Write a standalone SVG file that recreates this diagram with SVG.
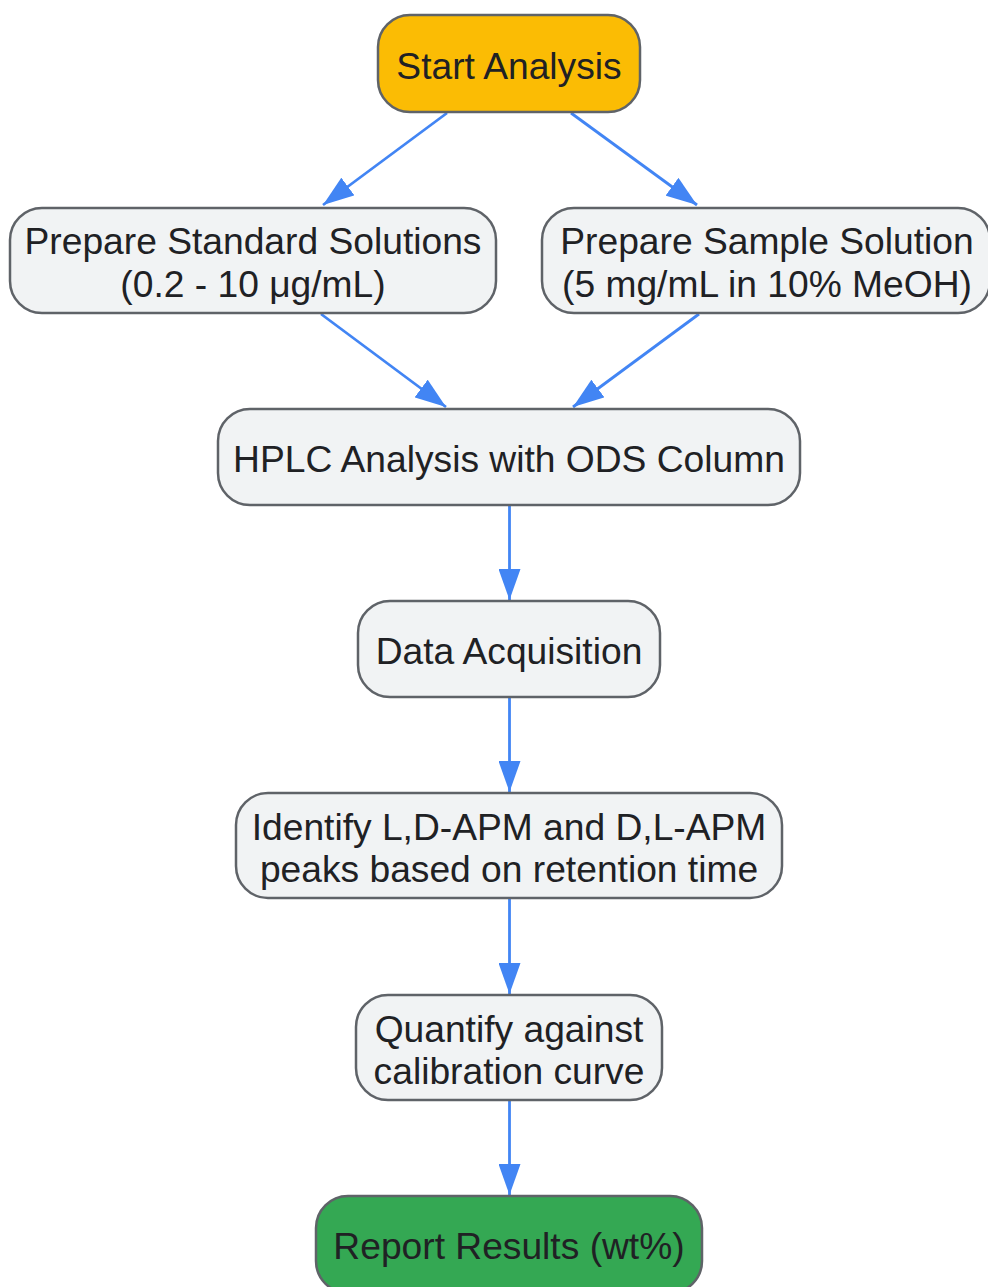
<svg xmlns="http://www.w3.org/2000/svg" width="988" height="1287" viewBox="0 0 988 1287">
<style>
.n{stroke:#5f6368;stroke-width:2.5}
.g{fill:#f1f3f4}
.t{font-family:"Liberation Sans",Arial,sans-serif;font-size:37.2px;fill:#202124;text-anchor:middle}
.e{stroke:#4285f4;stroke-width:2.8;fill:none;marker-end:url(#ah)}
</style>
<defs>
<marker id="ah" markerUnits="userSpaceOnUse" markerWidth="32" markerHeight="22" refX="31" refY="11" orient="auto">
<path d="M0,0 L31,11 L0,22 z" fill="#4285f4"/>
</marker>
</defs>
<rect width="988" height="1287" fill="#ffffff"/>
<g id="connectors">
<line class="e" x1="447" y1="113" x2="323" y2="205"/>
<line class="e" x1="571" y1="113" x2="697" y2="205"/>
<line class="e" x1="321" y1="314" x2="446" y2="407"/>
<line class="e" x1="699" y1="314" x2="573" y2="407"/>
<line class="e" x1="509.5" y1="505" x2="509.5" y2="600"/>
<line class="e" x1="509.5" y1="697" x2="509.5" y2="792"/>
<line class="e" x1="509.5" y1="898" x2="509.5" y2="994"/>
<line class="e" x1="509.5" y1="1100" x2="509.5" y2="1195"/>
</g>
<g id="start">
<rect class="n" x="378" y="15" width="262" height="97" rx="32" fill="#fbbc04"/>
<text class="t" x="509" y="78.5">Start Analysis</text>
</g>
<g id="standard">
<rect class="n g" x="10" y="208" width="486" height="105" rx="32"/>
<text class="t" x="253" y="254">Prepare Standard Solutions</text>
<text class="t" x="253" y="297">(0.2 - 10 μg/mL)</text>
</g>
<g id="sample">
<rect class="n g" x="542" y="208" width="448" height="105" rx="32"/>
<text class="t" x="767" y="254">Prepare Sample Solution</text>
<text class="t" x="767" y="297">(5 mg/mL in 10% MeOH)</text>
</g>
<g id="hplc">
<rect class="n g" x="218" y="409" width="582" height="96" rx="32"/>
<text class="t" x="509" y="471.5">HPLC Analysis with ODS Column</text>
</g>
<g id="data">
<rect class="n g" x="358" y="601" width="302" height="96" rx="32"/>
<text class="t" x="509" y="663.5">Data Acquisition</text>
</g>
<g id="identify">
<rect class="n g" x="236" y="793" width="546" height="105" rx="32"/>
<text class="t" x="509" y="840">Identify L,D-APM and D,L-APM</text>
<text class="t" x="509" y="882">peaks based on retention time</text>
</g>
<g id="quantify">
<rect class="n g" x="356" y="995" width="306" height="105" rx="32"/>
<text class="t" x="509" y="1042">Quantify against</text>
<text class="t" x="509" y="1084">calibration curve</text>
</g>
<g id="report">
<rect class="n" x="316" y="1196" width="386" height="97" rx="32" fill="#34a853"/>
<text class="t" x="509" y="1259">Report Results (wt%)</text>
</g>
</svg>
